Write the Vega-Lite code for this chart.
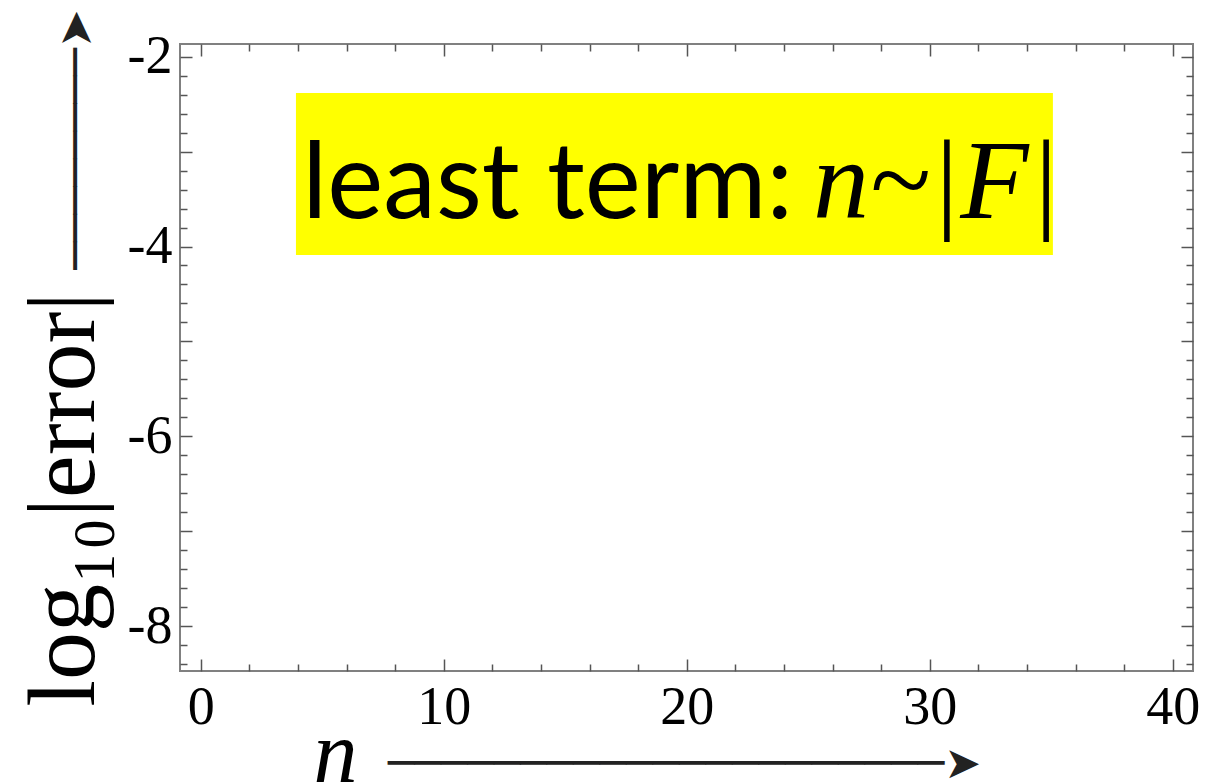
{
  "$schema": "https://vega.github.io/schema/vega-lite/v6.json",
  "width": 1013,
  "height": 627,
  "autosize": {"type": "none"},
  "padding": {"left": 180, "top": 44, "right": 27, "bottom": 111},
  "background": "white",
  "config": {
    "view": {"stroke": "#808080", "strokeWidth": 2},
    "axis": {
      "grid": false,
      "domain": false,
      "tickColor": "#555555",
      "tickWidth": 1.5,
      "labelFont": "Liberation Serif",
      "labelFontSize": 54,
      "labelColor": "#000000",
      "labelFlush": false,
      "labelOverlap": false,
      "labelBound": false,
      "titleColor": "#000000",
      "titleFontWeight": "normal",
      "titleFont": "Liberation Serif"
    }
  },
  "datasets": {
    "box": [{"x1": 3.92, "x2": 35.07, "y1": -2.383, "y2": -4.09}],
    "label": [{"x": 24.7, "y": -3.70, "left": "least term:", "right": "n~|F|"}]
  },
  "resolve": {"axis": {"x": "independent", "y": "independent"}},
  "layer": [
    {
      "data": {"name": "box"},
      "mark": {"type": "rect", "color": "#ffff00"},
      "encoding": {
        "x": {
          "field": "x1", "type": "quantitative",
          "scale": {"domain": [-0.852, 40.835], "nice": false, "zero": false},
          "axis": {
            "orient": "bottom",
            "values": [0, 10, 20, 30, 40],
            "tickSize": -12,
            "labelPadding": 21,
            "title": "n",
            "titleFontStyle": "italic",
            "titleFontSize": 88,
            "titleX": 155,
            "titleY": 110,
            "titleAlign": "center",
            "titleBaseline": "alphabetic"
          }
        },
        "x2": {"field": "x2"},
        "y": {
          "field": "y1", "type": "quantitative",
          "scale": {"domain": [-8.473, -1.866], "nice": false, "zero": false},
          "axis": {
            "orient": "left",
            "values": [-8, -7, -6, -5, -4, -3, -2],
            "labelExpr": "datum.value % 2 == 0 ? '-' + abs(datum.value) : ''",
            "tickSize": -12,
            "labelPadding": 20,
            "title": "log₁₀|error|",
            "titleFontSize": 96,
            "titleAngle": -90,
            "titleX": -87,
            "titleY": 455,
            "titleAlign": "center",
            "titleBaseline": "alphabetic"
          }
        },
        "y2": {"field": "y2"}
      }
    },
    {
      "data": {"name": "label"},
      "mark": {"type": "text", "font": "Lato", "fontSize": 106, "align": "right", "baseline": "alphabetic", "dx": -8, "color": "#000000"},
      "encoding": {
        "x": {
          "field": "x", "type": "quantitative",
          "scale": {"domain": [-0.852, 40.835], "nice": false, "zero": false},
          "axis": {
            "orient": "bottom",
            "values": [2, 4, 6, 8, 12, 14, 16, 18, 22, 24, 26, 28, 32, 34, 36, 38],
            "tickSize": -7,
            "labels": false,
            "title": "─────────────────────➤",
            "titleFont": "DejaVu Sans",
            "titleFontSize": 44,
            "titleColor": "#222222",
            "titleX": 504,
            "titleY": 106,
            "titleAlign": "center",
            "titleBaseline": "alphabetic"
          }
        },
        "y": {
          "field": "y", "type": "quantitative",
          "scale": {"domain": [-8.473, -1.866], "nice": false, "zero": false},
          "axis": {
            "orient": "left",
            "values": [-8.4, -8.2, -7.8, -7.6, -7.4, -7.2, -6.8, -6.6, -6.4, -6.2, -5.8, -5.6, -5.4, -5.2, -4.8, -4.6, -4.4, -4.2, -3.8, -3.6, -3.4, -3.2, -2.8, -2.6, -2.4, -2.2],
            "tickSize": -7,
            "labels": false,
            "title": "────────➤",
            "titleFont": "DejaVu Sans",
            "titleFontSize": 46,
            "titleColor": "#222222",
            "titleAngle": -90,
            "titleX": -90,
            "titleY": 95,
            "titleAlign": "center",
            "titleBaseline": "alphabetic"
          }
        },
        "text": {"field": "left"}
      }
    },
    {
      "data": {"name": "label"},
      "mark": {"type": "text", "font": "Liberation Serif", "fontStyle": "italic", "fontSize": 112, "align": "left", "baseline": "alphabetic", "dx": 12, "color": "#000000"},
      "encoding": {
        "x": {
          "field": "x", "type": "quantitative",
          "scale": {"domain": [-0.852, 40.835], "nice": false, "zero": false},
          "axis": {
            "orient": "top",
            "values": [0, 10, 20, 30, 40],
            "tickSize": -12,
            "labels": false,
            "title": null
          }
        },
        "y": {
          "field": "y", "type": "quantitative",
          "scale": {"domain": [-8.473, -1.866], "nice": false, "zero": false},
          "axis": {
            "orient": "right",
            "values": [-8, -7, -6, -5, -4, -3, -2],
            "tickSize": -12,
            "labels": false,
            "title": null
          }
        },
        "text": {"field": "right"}
      }
    },
    {
      "data": {"name": "label"},
      "mark": {"type": "point", "opacity": 0},
      "encoding": {
        "x": {
          "field": "x", "type": "quantitative",
          "scale": {"domain": [-0.852, 40.835], "nice": false, "zero": false},
          "axis": {
            "orient": "top",
            "values": [2, 4, 6, 8, 12, 14, 16, 18, 22, 24, 26, 28, 32, 34, 36, 38],
            "tickSize": -7,
            "labels": false,
            "title": null
          }
        },
        "y": {
          "field": "y", "type": "quantitative",
          "scale": {"domain": [-8.473, -1.866], "nice": false, "zero": false},
          "axis": {
            "orient": "right",
            "values": [-8.4, -8.2, -7.8, -7.6, -7.4, -7.2, -6.8, -6.6, -6.4, -6.2, -5.8, -5.6, -5.4, -5.2, -4.8, -4.6, -4.4, -4.2, -3.8, -3.6, -3.4, -3.2, -2.8, -2.6, -2.4, -2.2],
            "tickSize": -7,
            "labels": false,
            "title": null
          }
        }
      }
    }
  ]
}
